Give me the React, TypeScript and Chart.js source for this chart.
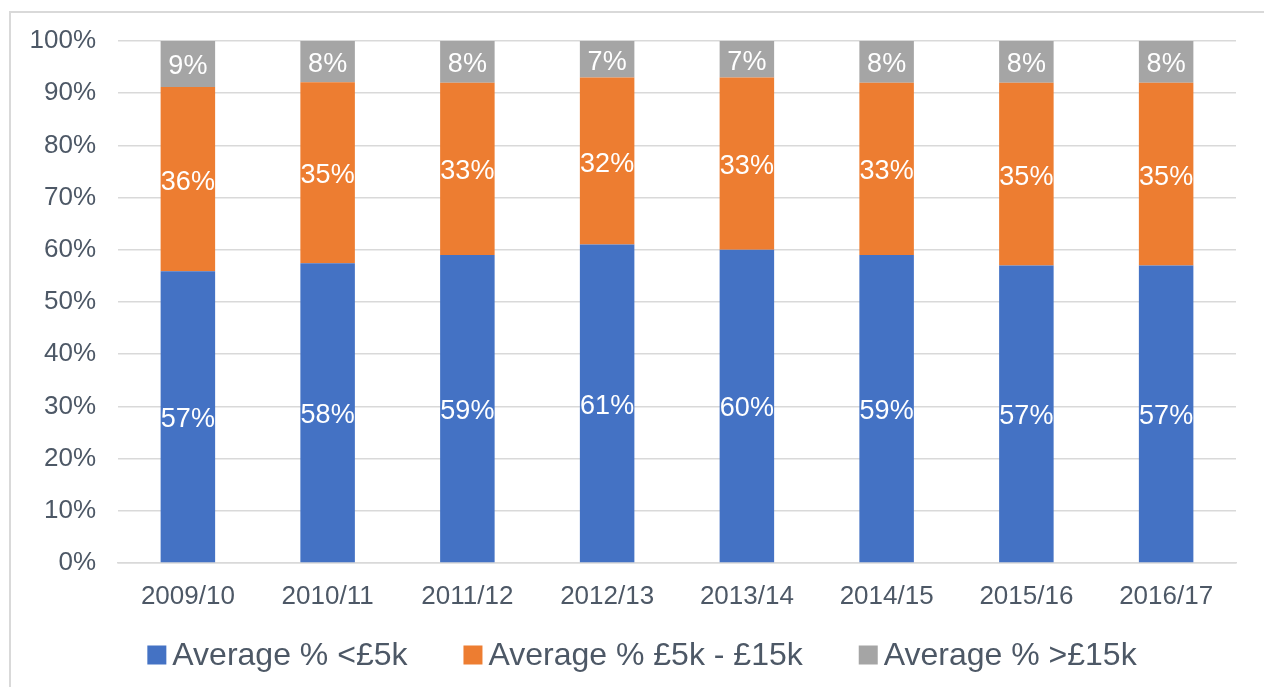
import React, { useEffect, useRef } from "react";
import { Chart, registerables } from "chart.js";

Chart.register(...registerables);

const categories = ["2009/10", "2010/11", "2011/12", "2012/13", "2013/14", "2014/15", "2015/16", "2016/17"];
const under5k = [57, 58, 59, 61, 60, 59, 57, 57];
const between5k15k = [36, 35, 33, 32, 33, 33, 35, 35];
const over15k = [9, 8, 8, 7, 7, 8, 8, 8];
const seriesNames = ["Average % <£5k", "Average % £5k - £15k", "Average % >£15k"];
const seriesColors = ["#4472C4", "#ED7D31", "#A5A5A5"];
const yTickValues = [0, 10, 20, 30, 40, 50, 60, 70, 80, 90, 100];

const FONT = "'Liberation Sans', Arial, sans-serif";
const TEXT_COLOR = "#4D5866";

const dataLabelPlugin = {
  id: "dataLabels",
  afterDatasetsDraw(chart: any) {
    const ctx = chart.ctx;
    ctx.save();
    ctx.font = `27px ${FONT}`;
    ctx.fillStyle = "#FFFFFF";
    ctx.textAlign = "center";
    ctx.textBaseline = "middle";
    chart.data.datasets.forEach((ds: any, di: number) => {
      const meta = chart.getDatasetMeta(di);
      meta.data.forEach((el: any, i: number) => {
        const p = el.getProps(["x", "y", "base"], true);
        ctx.fillText(ds.rawValues[i] + "%", p.x, (p.y + p.base) / 2 + 3);
      });
    });
    ctx.restore();
  },
};

const customLegendPlugin = {
  id: "customLegend",
  afterDraw(chart: any) {
    const ctx = chart.ctx;
    ctx.save();
    ctx.font = `32px ${FONT}`;
    const box = 19;
    const gapText = 6;
    const gapItem = 56;
    const items = chart.data.datasets.map((ds: any) => ({
      label: ds.label,
      color: ds.backgroundColor,
      w: box + gapText + ctx.measureText(ds.label).width,
    }));
    const total = items.reduce((s: number, it: any) => s + it.w, 0) + gapItem * (items.length - 1);
    let x = 642 - total / 2;
    const cy = 655;
    items.forEach((it: any) => {
      ctx.fillStyle = it.color;
      ctx.fillRect(x, cy - box / 2, box, box);
      ctx.fillStyle = TEXT_COLOR;
      ctx.textAlign = "left";
      ctx.textBaseline = "middle";
      ctx.fillText(it.label, x + box + gapText, cy + 1);
      x += it.w + gapItem;
    });
    ctx.restore();
  },
};

export default function App() {
  const canvasRef = useRef<HTMLCanvasElement | null>(null);

  useEffect(() => {
    const raw = [under5k, between5k15k, over15k];
    const totals = categories.map((_, i) => raw.reduce((s, arr) => s + arr[i], 0));
    const chart = new Chart(canvasRef.current as HTMLCanvasElement, {
      type: "bar",
      data: {
        labels: categories,
        datasets: raw.map((arr, k) => ({
          label: seriesNames[k],
          data: arr.map((v, i) => (v / totals[i]) * 100),
          rawValues: arr,
          backgroundColor: seriesColors[k],
          borderWidth: 0,
          categoryPercentage: 1,
          barPercentage: 0.39,
        })) as any,
      },
      options: {
        responsive: false,
        animation: false,
        layout: { padding: { left: 0, right: 28, top: 41, bottom: 74 } },
        plugins: {
          legend: { display: false },
          tooltip: { enabled: false },
        },
        scales: {
          x: {
            stacked: true,
            grid: { display: false },
            border: { display: true, color: "#D9D9D9", width: 1.5 },
            ticks: {
              color: TEXT_COLOR,
              font: { family: FONT, size: 26 },
              padding: 10,
              maxRotation: 0,
            },
            afterFit(scale: any) {
              scale.height = 50;
            },
          },
          y: {
            stacked: true,
            min: 0,
            max: 100,
            afterBuildTicks(scale: any) {
              scale.ticks = yTickValues.map((v) => ({ value: v }));
            },
            grid: { color: "#D9D9D9", lineWidth: 1.5, drawTicks: false },
            border: { display: false },
            ticks: {
              color: TEXT_COLOR,
              font: { family: FONT, size: 26 },
              padding: 22,
              callback: (v: any) => v + "%",
            },
            afterFit(scale: any) {
              scale.width = 118;
            },
          },
        },
      },
      plugins: [dataLabelPlugin, customLegendPlugin],
    });
    return () => chart.destroy();
  }, []);

  return (
    <div
      style={{
        position: "fixed",
        left: 0,
        top: 0,
        width: 1264,
        height: 687,
        overflow: "hidden",
        background: "#FFFFFF",
      }}
    >
      <div
        style={{
          position: "absolute",
          left: 9,
          top: 11,
          width: 1300,
          height: 700,
          border: "2px solid #D9D9D9",
          boxSizing: "border-box",
        }}
      />
      <canvas
        ref={canvasRef}
        width={1264}
        height={687}
        style={{ position: "absolute", left: 0, top: 0, display: "block" }}
      />
    </div>
  );
}
